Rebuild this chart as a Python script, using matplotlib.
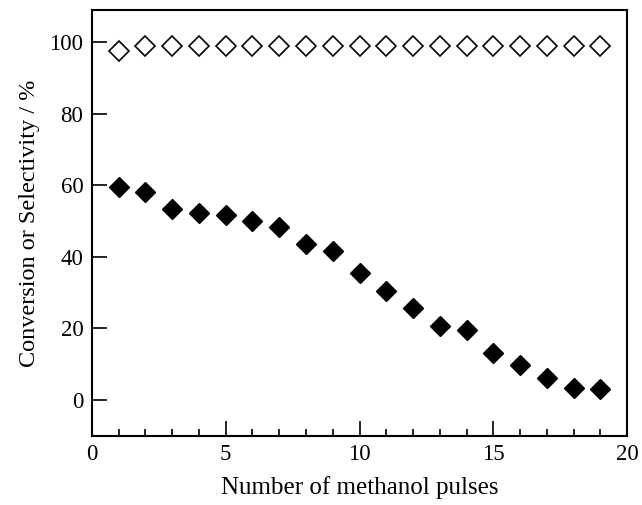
import matplotlib.pyplot as plt
from matplotlib.ticker import MultipleLocator

plt.rcParams['font.family'] = ['Liberation Serif', 'DejaVu Serif']

pulses = list(range(1, 20))
conversion = [59.6, 58.2, 53.5, 52.2, 51.7, 50.0, 48.4, 43.5, 41.8, 35.6,
              30.4, 25.7, 20.8, 19.5, 13.1, 9.8, 6.2, 3.3, 3.1]
selectivity = [97.5, 99.0, 99.0, 99.0, 99.0, 99.0, 99.0, 99.0, 99.0, 99.0,
               99.0, 99.0, 99.0, 99.0, 99.0, 99.0, 99.0, 99.0, 99.0]

fig = plt.figure(figsize=(6.42, 5.05), dpi=100)
ax = fig.add_axes([0.143, 0.137, 0.834, 0.843])

ax.plot(pulses, selectivity, linestyle="none", marker="D", markersize=10,
        markerfacecolor="white", markeredgecolor="black", markeredgewidth=1.2)
ax.plot(pulses, conversion, linestyle="none", marker="D", markersize=10,
        color="black")

ax.set_xlim(0, 20)
ax.set_ylim(-10, 109)
ax.set_yticks([0, 20, 40, 60, 80, 100])
ax.xaxis.set_major_locator(MultipleLocator(5))
ax.xaxis.set_minor_locator(MultipleLocator(1))
ax.tick_params(axis="both", which="major", direction="in", length=11, width=1.2,
               labelsize=16.5, pad=6)
ax.tick_params(axis="x", which="minor", direction="in", length=5, width=1.2)
for s in ax.spines.values():
    s.set_linewidth(1.5)

ax.set_xlabel("Number of methanol pulses", fontsize=18, labelpad=8)
ax.set_ylabel("Conversion or Selectivity / %", fontsize=17.5, labelpad=7)

fig.savefig("out.png", dpi=100)
